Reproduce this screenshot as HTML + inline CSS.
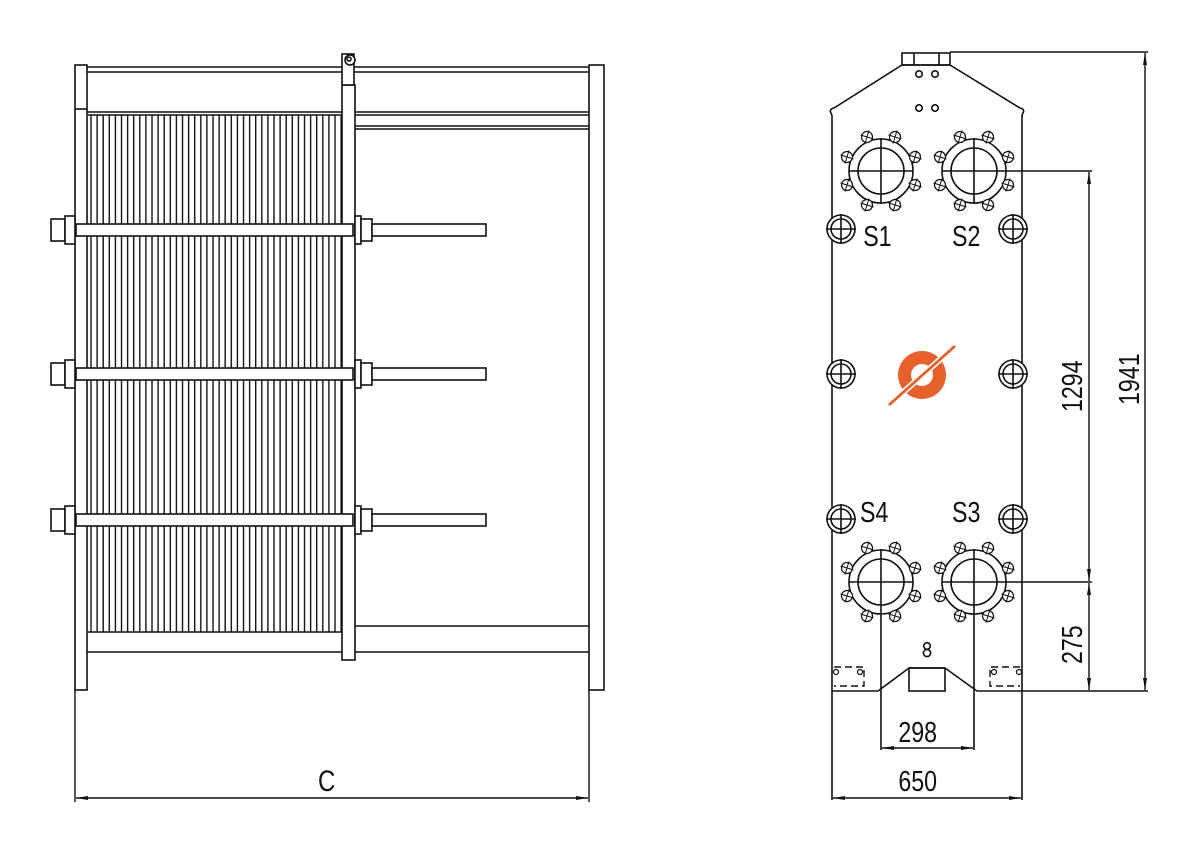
<!DOCTYPE html>
<html><head><meta charset="utf-8"><style>
html,body{margin:0;padding:0;background:#fff;}
svg{display:block}
text{font-family:"Liberation Sans",sans-serif;fill:#111;}
</style></head><body>
<svg width="1200" height="853" viewBox="0 0 1200 853" xmlns="http://www.w3.org/2000/svg">
<defs>
<pattern id="pl" x="88" y="0" width="6.1" height="10" patternUnits="userSpaceOnUse">
<line x1="3" y1="0" x2="3" y2="10" stroke="#111" stroke-width="1.4"/>
</pattern>
<g id="bolt"><circle r="5.5" fill="#fff" stroke="#111" stroke-width="1.2"/><line x1="-6.5" y1="-2" x2="6.5" y2="2" stroke="#111" stroke-width="1"/><line x1="2" y1="-6.5" x2="-2" y2="6.5" stroke="#111" stroke-width="1"/></g>
<g id="port" fill="none" stroke="#111" stroke-width="1.6">
<circle r="32"/><circle r="23"/>
<use href="#bolt" x="-14" y="-34"/><use href="#bolt" x="14" y="-34"/>
<use href="#bolt" x="-34" y="-14"/><use href="#bolt" x="34" y="-14"/>
<use href="#bolt" x="-34" y="14"/><use href="#bolt" x="34" y="14"/>
<use href="#bolt" x="-14" y="34"/><use href="#bolt" x="14" y="34"/>
</g>
<g id="tb" fill="#fff" stroke="#111" stroke-width="1.6">
<circle r="14"/><circle r="10"/><line x1="-15" y1="0" x2="15" y2="0"/><line x1="0" y1="-15" x2="0" y2="15"/>
</g>
<g id="bar" stroke="#111" stroke-width="1.6" fill="#fff">
<rect x="76" y="-6" width="277" height="12"/>
<rect x="51" y="-11" width="14" height="22"/>
<rect x="65" y="-14" width="10" height="28"/>
<rect x="355" y="-14" width="6" height="28"/>
<rect x="361" y="-11" width="11" height="22"/>
<rect x="372" y="-6" width="114" height="12"/>
</g>
<marker id="ar" viewBox="0 0 12 4" refX="12" refY="2" markerWidth="12" markerHeight="4" orient="auto-start-reverse" markerUnits="userSpaceOnUse"><path d="M0,0 L12,2 L0,4z" fill="#111"/></marker>
</defs>

<!-- LEFT VIEW -->
<g stroke="#111" stroke-width="1.6" fill="none">
<rect x="88" y="115" width="254" height="517" fill="url(#pl)" stroke="none"/>
<line x1="88" y1="115" x2="342" y2="115"/>
<line x1="88" y1="632" x2="342" y2="632"/>
<line x1="87" y1="67" x2="589" y2="67"/><line x1="87" y1="72" x2="589" y2="72"/>
<line x1="87" y1="112" x2="342" y2="112"/>
<line x1="355" y1="112" x2="589" y2="112"/><line x1="355" y1="115" x2="589" y2="115"/>
<line x1="355" y1="126" x2="589" y2="126"/><line x1="355" y1="129" x2="589" y2="129"/>
<line x1="87" y1="652" x2="589" y2="652"/>
<line x1="355" y1="626" x2="589" y2="626"/>
<rect x="75" y="65" width="12" height="625" fill="#fff"/>
<line x1="75" y1="109" x2="87" y2="109"/>
<rect x="342" y="85" width="13" height="575" fill="#fff"/>
<rect x="342" y="54" width="12" height="31" fill="#fff"/>
<circle cx="350" cy="60" r="5" fill="#fff"/><circle cx="349" cy="59" r="2"/>
<rect x="589" y="65" width="15" height="625" fill="#fff"/>
</g>
<use href="#bar" y="230"/>
<use href="#bar" y="374"/>
<use href="#bar" y="520"/>
<g stroke="#111" stroke-width="1.4" fill="none">
<line x1="75" y1="690" x2="75" y2="802"/>
<line x1="589" y1="690" x2="589" y2="802"/>
<line x1="76" y1="798" x2="588" y2="798" marker-start="url(#ar)" marker-end="url(#ar)"/>
</g>
<text x="318" y="791" font-size="30" transform="translate(318 0) scale(0.8 1) translate(-318 0)">C</text>

<!-- RIGHT VIEW -->
<g stroke="#111" stroke-width="1.6" fill="none">
<path d="M832,115 L832,800"/>
<path d="M1022,115 L1022,800"/>
<path d="M832,115 q-4,-6 2,-7 L902,65 L950,65 L1020,108 q6,1 2,7"/>
<rect x="902" y="53" width="48" height="12"/>
<line x1="914" y1="53" x2="914" y2="65"/><line x1="939" y1="53" x2="939" y2="65"/>
<circle cx="919" cy="74" r="3.2"/><circle cx="935" cy="74" r="3.2"/>
<circle cx="919" cy="108" r="3.2"/><circle cx="935" cy="108" r="3.2"/>
<line x1="849" y1="171" x2="913" y2="171"/><line x1="881" y1="138" x2="881" y2="204"/>
<line x1="942" y1="171" x2="1006" y2="171"/><line x1="974" y1="138" x2="974" y2="204"/>
<line x1="849" y1="582" x2="913" y2="582"/><line x1="881" y1="549" x2="881" y2="750"/>
<line x1="942" y1="582" x2="1006" y2="582"/><line x1="974" y1="549" x2="974" y2="750"/>
<path d="M832,691 L878,691 L909,668 L945,668 L977,691 L1022,691"/>
<rect x="909" y="668" width="36" height="23"/>
<circle cx="927" cy="646" r="3.3"/><circle cx="927" cy="653" r="3.6"/>
</g>
<g stroke="#111" stroke-width="1.4" fill="none" stroke-dasharray="7,4">
<path d="M834,667 L864,667 L864,686 L834,686"/>
<path d="M1020,667 L990,667 L990,686 L1020,686"/>
</g>
<g stroke="#111" stroke-width="1.2" fill="none">
<circle cx="836" cy="672" r="2.5"/><circle cx="860" cy="672" r="2.5"/>
<circle cx="994" cy="672" r="2.5"/><circle cx="1019" cy="672" r="2.5"/>
</g>
<use href="#port" x="881" y="171"/><use href="#port" x="974" y="171"/>
<use href="#port" x="881" y="582"/><use href="#port" x="974" y="582"/>
<use href="#tb" x="841" y="229"/><use href="#tb" x="1013" y="229"/>
<use href="#tb" x="841" y="374"/><use href="#tb" x="1013" y="374"/>
<use href="#tb" x="841" y="519"/><use href="#tb" x="1013" y="519"/>
<g>
<circle cx="922" cy="375" r="24" fill="#e8602c"/>
<circle cx="922" cy="375" r="11" fill="#fff"/>
<line x1="889" y1="405" x2="955" y2="346" stroke="#fff" stroke-width="6"/>
<line x1="889" y1="405" x2="955" y2="346" stroke="#e8602c" stroke-width="2.8"/>
</g>
<g font-size="29" transform="scale(0.8 1)">
<text x="1079" y="246">S1</text>
<text x="1190" y="246">S2</text>
<text x="1075" y="522">S4</text>
<text x="1190" y="522">S3</text>
<text x="1123" y="742">298</text>
<text x="1123" y="791">650</text>
</g>
<g stroke="#111" stroke-width="1.4" fill="none">
<line x1="950" y1="52" x2="1148" y2="52"/>
<line x1="1022" y1="691" x2="1148" y2="691"/>
<line x1="1006" y1="171" x2="1092" y2="171"/>
<line x1="1006" y1="582" x2="1092" y2="582"/>
<line x1="1145" y1="53" x2="1145" y2="690" marker-start="url(#ar)" marker-end="url(#ar)"/>
<line x1="1089" y1="172" x2="1089" y2="581" marker-start="url(#ar)" marker-end="url(#ar)"/>
<line x1="1089" y1="583" x2="1089" y2="690" marker-start="url(#ar)" marker-end="url(#ar)"/>
<line x1="882" y1="748" x2="973" y2="748" marker-start="url(#ar)" marker-end="url(#ar)"/>
<line x1="833" y1="798" x2="1021" y2="798" marker-start="url(#ar)" marker-end="url(#ar)"/>
</g>
<g font-size="29">
<text transform="translate(1139 405) rotate(-90) scale(0.8 1)">1941</text>
<text transform="translate(1082 412) rotate(-90) scale(0.8 1)">1294</text>
<text transform="translate(1082 664) rotate(-90) scale(0.8 1)">275</text>
</g>
</svg>
</body></html>
